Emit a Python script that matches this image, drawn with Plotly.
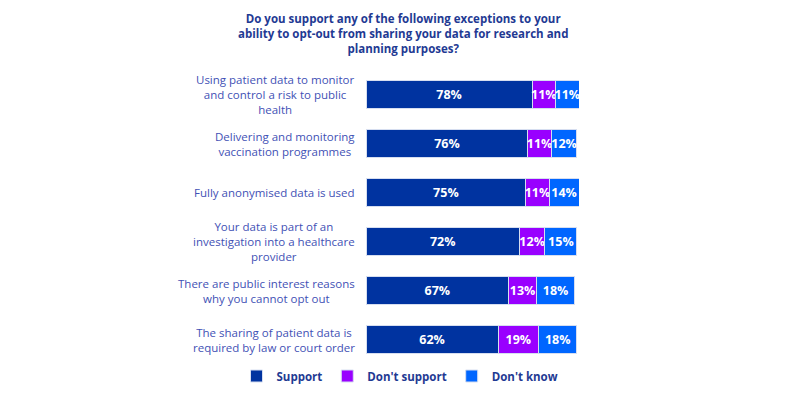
import plotly.graph_objects as go

# Survey answers, one row per exception
categories = [
    "Using patient data to monitor<br>and control a risk to public<br>health",
    "Delivering and monitoring<br>vaccination programmes",
    "Fully anonymised data is used",
    "Your data is part of an<br>investigation into a healthcare<br>provider",
    "There are public interest reasons<br>why you cannot opt out",
    "The sharing of patient data is<br>required by law or court order",
]
support = [78, 76, 75, 72, 67, 62]
dont_support = [11, 11, 11, 12, 13, 19]
dont_know = [11, 12, 14, 15, 18, 18]

series = [
    ("Support", support, "#0033A0"),
    ("Don't support", dont_support, "#9900FF"),
    ("Don't know", dont_know, "#0066FF"),
]

fig = go.Figure()
for name, vals, colour in series:
    fig.add_trace(go.Bar(
        y=categories, x=vals, name=name, orientation="h",
        marker=dict(color=colour, line=dict(color="#D6DEF0", width=1)),
        text=[f"{v}%" for v in vals], textposition="inside", textangle=0,
        insidetextanchor="middle", constraintext="none",
        textfont=dict(color="white", size=12.5, family="Open Sans", weight="bold"),
        cliponaxis=False,
    ))

# category labels as annotations so multi-line text stays centred
for cat in categories:
    fig.add_annotation(
        x=0, y=cat, xref="x", yref="y", text=cat, showarrow=False,
        xanchor="right", xshift=-9, align="center",
        font=dict(family="Open Sans", size=11.5, color="#3F51B5"),
    )

# the page body adds ~8px, so the domains are shifted a bit up/left
fig.update_layout(
    barmode="stack",
    bargap=0.43,
    width=800, height=400,
    margin=dict(l=0, r=0, t=0, b=0, autoexpand=False),
    plot_bgcolor="white", paper_bgcolor="white",
    title=dict(
        text="Do you support any of the following exceptions to your<br>"
             "ability to opt-out from sharing your data for research and<br>"
             "planning purposes?",
        x=0.494, xref="container", xanchor="center", y=0.9625, yanchor="top",
        font=dict(family="Open Sans", size=11.5, color="#1F3A93", weight="bold"),
    ),
    xaxis=dict(range=[0, 100], visible=False, domain=[0.4475, 0.71375]),
    yaxis=dict(autorange="reversed", showticklabels=False, showgrid=False,
               zeroline=False, domain=[0.11, 0.845]),
    legend=dict(
        orientation="h", x=0.49, xref="container", xanchor="center",
        y=0.08, yref="container", yanchor="middle", traceorder="normal",
        font=dict(family="Open Sans", size=11.5, color="#1F3A93", weight="bold"),
    ),
    showlegend=True,
)

fig.write_html("out.html")
